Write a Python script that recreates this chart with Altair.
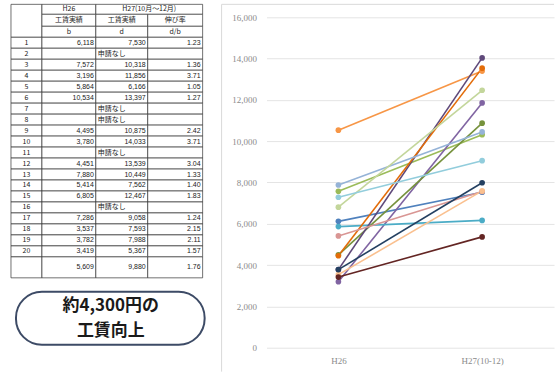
import altair as alt
import pandas as pd

# ---------------- data ----------------
rows = list(range(1, 21))
h26 = [6118, None, 7572, 3196, 5864, 10534, None, None, 4495, 3780,
       None, 4451, 7880, 5414, 6805, None, 7286, 3537, 3782, 3419]
h27 = [7530, None, 10318, 11856, 6166, 13397, None, None, 10875, 14033,
       None, 13539, 10449, 7562, 12467, None, 9058, 7593, 7988, 5367]
ratio = [1.23, None, 1.36, 3.71, 1.05, 1.27, None, None, 2.42, 3.71,
         None, 3.04, 1.33, 1.40, 1.83, None, 1.24, 2.15, 2.11, 1.57]
avg_values = ["5,609", "9,880", "1.76"]
no_apply = "申請なし"
period_labels = ["H26", "H27(10-12)"]
header_top = ["H26", "H27(10月～12月)"]
header_mid = ["工賃実績", "工賃実績", "伸び率"]
header_sym = ["b", "d", "d/b"]
callout = ["約4,300円の", "工賃向上"]
y_ticks = [0, 2000, 4000, 6000, 8000, 10000, 12000, 14000, 16000]

# Excel 2010 series palette (one colour per table row 1..20)
series_colors = ["#4F81BD", "#C0504D", "#9BBB59", "#8064A2", "#4BACC6", "#F79646",
                 "#365F91", "#953735", "#76923C", "#5F497A", "#31859C", "#E36C09",
                 "#95B3D7", "#D99694", "#C3D69B", "#B2A2C7", "#92CDDC", "#FAC08F",
                 "#244061", "#632523"]

# ---------------- table layout ----------------
col_w = [31, 54, 52, 55]
row_h = [10, 12, 11] + [11] * 20 + [21]
cx = [0]
for w in col_w:
    cx.append(cx[-1] + w)
ry = [0]
for h in row_h:
    ry.append(ry[-1] + h)
TW, TH = cx[-1], ry[-1]

cells = []
def cell(c0, c1, r0, r1, text="", align="center"):
    cells.append(dict(x0=cx[c0], x1=cx[c1], y0=ry[r0], y1=ry[r1],
                      xm=(cx[c0] + cx[c1]) / 2, ym=(ry[r0] + ry[r1]) / 2,
                      text=text, align=align))

cell(0, 1, 0, 3)
cell(1, 2, 0, 1, header_top[0])
cell(2, 4, 0, 1, header_top[1])
for j in range(3):
    cell(1 + j, 2 + j, 1, 2, header_mid[j])
    cell(1 + j, 2 + j, 2, 3, header_sym[j])
for i, r in enumerate(rows):
    ri = 3 + i
    cell(0, 1, ri, ri + 1, str(r))
    if h26[i] is None:
        cell(1, 2, ri, ri + 1)
        cell(2, 3, ri, ri + 1, no_apply, "left")
        cell(3, 4, ri, ri + 1)
    else:
        cell(1, 2, ri, ri + 1, f"{h26[i]:,}", "right")
        cell(2, 3, ri, ri + 1, f"{h27[i]:,}", "right")
        cell(3, 4, ri, ri + 1, f"{ratio[i]:.2f}", "right")
ra = 3 + len(rows)
cell(0, 1, ra, ra + 1)
for j in range(3):
    cell(1 + j, 2 + j, ra, ra + 1, avg_values[j], "right")
cells_df = pd.DataFrame(cells)

xs = alt.Scale(domain=[0, TW], nice=False, zero=False)
ys = alt.Scale(domain=[0, TH], nice=False, zero=False, reverse=True)
tbase = alt.Chart(cells_df)
t_rect = tbase.mark_rect(fill="white", stroke="#333333", strokeWidth=0.7).encode(
    x=alt.X("x0:Q", scale=xs, axis=None), x2="x1:Q",
    y=alt.Y("y0:Q", scale=ys, axis=None), y2="y1:Q")
font_tbl = "Noto Sans CJK JP"
t_center = tbase.transform_filter("datum.align == 'center'").mark_text(
    align="center", baseline="middle", fontSize=7, font=font_tbl, color="#222222").encode(
    x=alt.X("xm:Q", scale=xs, axis=None), y=alt.Y("ym:Q", scale=ys, axis=None), text="text:N")
t_left = tbase.transform_filter("datum.align == 'left'").mark_text(
    align="left", baseline="middle", dx=2, fontSize=7, font=font_tbl, color="#222222").encode(
    x=alt.X("x0:Q", scale=xs, axis=None), y=alt.Y("ym:Q", scale=ys, axis=None), text="text:N")
t_right = tbase.transform_filter("datum.align == 'right'").mark_text(
    align="right", baseline="middle", dx=-2, fontSize=7, font="Liberation Sans", color="#222222").encode(
    x=alt.X("x1:Q", scale=xs, axis=None), y=alt.Y("ym:Q", scale=ys, axis=None), text="text:N")
table = alt.layer(t_rect, t_center, t_left, t_right).properties(width=TW, height=TH)

# ---------------- callout box ----------------
box_df = pd.DataFrame({"t": ["\n".join(callout)]})
box_rect = alt.Chart(box_df).mark_rect(
    fill="white", stroke="#3d4b66", strokeWidth=2, cornerRadius=26).encode(
    x=alt.value(5), x2=alt.value(194), y=alt.value(0), y2=alt.value(53))
box_text = alt.Chart(box_df).mark_text(
    lineBreak="\n", fontSize=17, fontWeight="bold", font="Noto Sans CJK JP",
    lineHeight=25, color="#1a1a1a", baseline="middle").encode(
    x=alt.value(100), y=alt.value(14), text="t:N")
box = alt.layer(box_rect, box_text).properties(width=194, height=53)

left = alt.vconcat(table, box, spacing=12)

# ---------------- line chart ----------------
recs = []
for i, r in enumerate(rows):
    if h26[i] is None:
        continue
    recs.append(dict(row=r, period=period_labels[0], value=h26[i]))
    recs.append(dict(row=r, period=period_labels[1], value=h27[i]))
ldf = pd.DataFrame(recs)
used = [r for i, r in enumerate(rows) if h26[i] is not None]
used_colors = [series_colors[r - 1] for r in used]

PLOT_H = 344          # from the chart frame top down to the zero line
GRID_H = 331          # from the 16,000 gridline down to the zero line
y_max = 16000 * PLOT_H / GRID_H

xenc = alt.X("period:N", scale=alt.Scale(type="point", padding=0.5, domain=period_labels),
             axis=alt.Axis(title=None, labelAngle=0, ticks=False, domain=False, labelPadding=9,
                           labelColor="#8a8a8a", labelFontSize=9, labelFont="Liberation Serif"))
yenc = alt.Y("value:Q", scale=alt.Scale(domain=[0, y_max], nice=False),
             axis=alt.Axis(values=y_ticks, format=",d", title=None, ticks=False, domain=False,
                           gridColor="#e4e4e4", labelPadding=10, labelColor="#8a8a8a",
                           labelFontSize=9, labelFont="Liberation Serif"))
cenc = alt.Color("row:O", scale=alt.Scale(domain=used, range=used_colors), legend=None)

lines = alt.Chart(ldf).mark_line(strokeWidth=1.6).encode(x=xenc, y=yenc, color=cenc, order="row:Q")
pts = alt.Chart(ldf).mark_circle(size=32, opacity=1).encode(x=xenc, y=yenc, color=cenc)

frame_df = pd.DataFrame({"a": [0]})
frame_v = alt.Chart(frame_df).mark_rule(color="#d9d9d9", strokeWidth=1).encode(
    x=alt.value(-45), y=alt.value(0), y2=alt.value(368))
frame_h = alt.Chart(frame_df).mark_rule(color="#d9d9d9", strokeWidth=1).encode(
    x=alt.value(-45), x2=alt.value(288), y=alt.value(0))

right = alt.layer(frame_v, frame_h, lines, pts).properties(width=288, height=PLOT_H)

chart = alt.hconcat(left, right, spacing=15).properties(
    padding={"left": 10, "top": 3, "right": 0, "bottom": 0}, background="white"
).configure_view(stroke=None)

chart.save("out.html", embed_options={"renderer": "svg", "actions": False})
